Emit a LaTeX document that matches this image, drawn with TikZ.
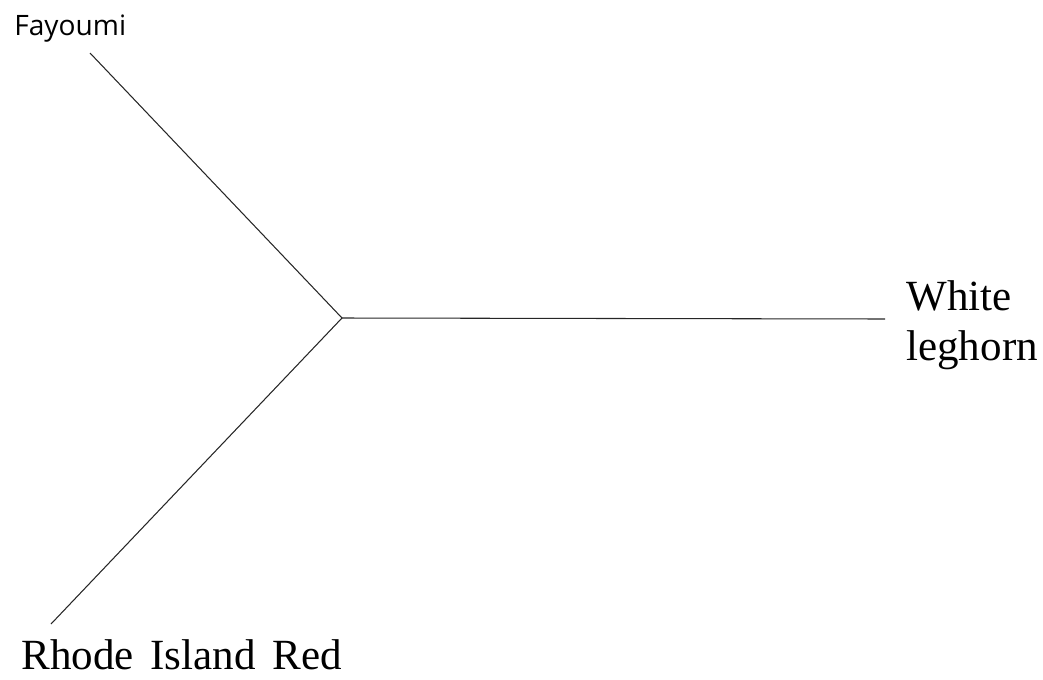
\documentclass[tikz,border=0pt]{standalone}
\usepackage{fontspec}
\setmainfont{Liberation Serif}
\newfontfamily\labelsans{Open Sans}
\begin{document}
\begin{tikzpicture}[x=0.02cm, y=-0.02cm]
		\useasboundingbox (0, 0) rectangle (1043, 679);
		\tikzset{branch/.style={line width=0.6pt, black!85}}
		
		\coordinate (v) at (342, 318);
		\coordinate (f) at (90, 53);
		\coordinate (r) at (51, 624);
		\coordinate (w) at (885, 319);
		
		\node[anchor=base west, inner sep=0] (fay) at (14, 36) {\labelsans\fontsize{16}{19}\selectfont Fayoumi};
		\node[anchor=base west, inner sep=0] (rir) at (21, 669) {\fontsize{24.5}{28.4}\selectfont\spaceskip=0.39em Rhode Island Red};
		\node[anchor=north west, inner sep=0, align=left, font=\fontsize{24.5}{28.45}\selectfont] (wl) at (906, 280) {White\\leghorn};
		
		\draw[branch] (f) -- (v);
		\draw[branch] (r) -- (v);
		\draw[branch] (v) -- (w);
	\end{tikzpicture}
\end{document}
